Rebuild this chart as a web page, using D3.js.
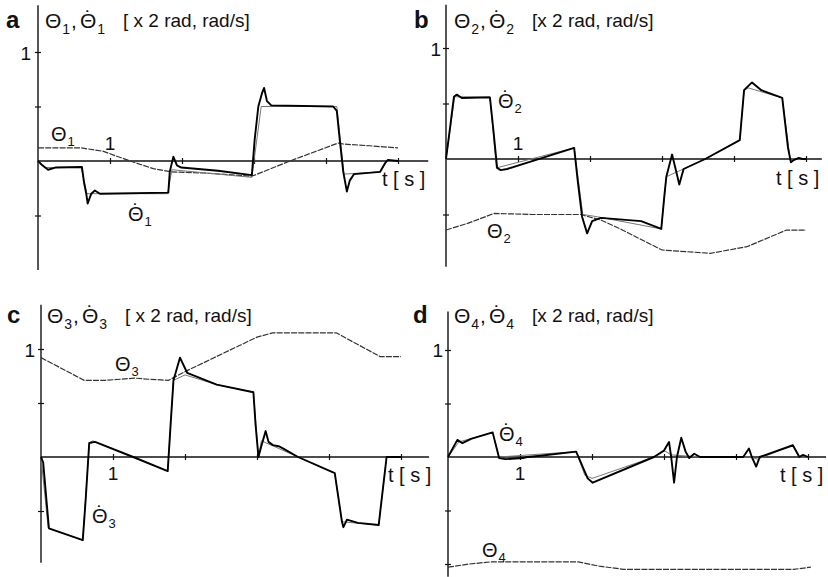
<!DOCTYPE html>
<html>
<head>
<meta charset="utf-8">
<script src="https://cdn.jsdelivr.net/npm/d3@7"></script>
<style>
  html, body { margin: 0; padding: 0; background: #fff; }
  svg { display: block; }
  text { font-family: "Liberation Sans", Arial, sans-serif; fill: #111; }
</style>
</head>
<body>
<svg id="chart" width="828" height="577"></svg>
<script>
// Joint angles (x 2 rad) and angular velocities (rad/s) over time t [s]
const xTickValues = [1, 2, 3, 4, 5];
const xTickLabels = ["1"];
const yTickLabels = ["1"];

// Joint 1
const theta1 = [[0,0.12],[0.6,0.12],[0.9,0.09],[1.28,0],[1.6,-0.07],[1.85,-0.1],[2.3,-0.11],[2.97,-0.14],[3.5,0],[4.17,0.165],[4.25,0.155],[4.6,0.14],[5.0,0.12]];
const thetaDot1 = [[0,0],[0.06,-0.04],[0.14,-0.08],[0.24,-0.06],[0.61,-0.055],[0.64,-0.2],[0.67,-0.3],[0.69,-0.39],[0.74,-0.3],[0.79,-0.27],[0.86,-0.3],[1.81,-0.29],[1.83,-0.1],[1.88,0.04],[1.93,-0.04],[1.99,-0.06],[2.5,-0.09],[2.97,-0.13],[3.01,0.2],[3.06,0.5],[3.11,0.62],[3.14,0.67],[3.18,0.55],[3.24,0.51],[4.10,0.5],[4.15,0.46],[4.19,0.2],[4.24,-0.1],[4.29,-0.28],[4.33,-0.18],[4.39,-0.12],[4.75,-0.1],[4.82,-0.02],[4.86,0.01],[5.0,0]];
const thetaDotRef1 = [[0,0],[0.1,-0.06],[0.6,-0.06],[0.68,-0.3],[1.8,-0.3],[1.86,-0.08],[2.97,-0.15],[3.1,0.5],[4.15,0.5],[4.25,-0.12],[4.75,-0.1],[4.85,0],[5,0]];

// Joint 2
const theta2 = [[0,-0.64],[0.3,-0.58],[0.67,-0.49],[1.2,-0.5],[1.87,-0.5],[2.15,-0.55],[2.42,-0.63],[3.0,-0.82],[3.67,-0.85],[4.18,-0.79],[4.73,-0.64],[5.0,-0.64]];
const thetaDot2 = [[0,0],[0.06,0.3],[0.11,0.56],[0.15,0.58],[0.22,0.55],[0.61,0.555],[0.66,0.25],[0.71,-0.08],[0.76,-0.1],[0.85,-0.09],[1.78,0.1],[1.83,-0.2],[1.89,-0.52],[1.96,-0.67],[2.03,-0.56],[2.15,-0.53],[2.71,-0.56],[2.99,-0.63],[3.03,-0.35],[3.06,-0.16],[3.14,0.04],[3.2,-0.12],[3.24,-0.23],[3.3,-0.09],[3.6,0],[4.08,0.17],[4.14,0.62],[4.25,0.69],[4.38,0.62],[4.67,0.55],[4.75,0.1],[4.79,-0.03],[4.83,-0.01],[4.9,0.01],[4.95,0],[5.0,0]];
const thetaDotRef2 = [[0,0],[0.12,0.56],[0.61,0.56],[0.7,-0.08],[1.78,0.1],[1.9,-0.5],[2.1,-0.52],[2.99,-0.63],[3.06,-0.16],[3.6,0],[4.08,0.17],[4.14,0.62],[4.2,0.64],[4.67,0.55],[4.78,0],[5,0]];

// Joint 3
const theta3 = [[0,0.92],[0.6,0.71],[0.9,0.71],[1.1,0.72],[1.3,0.73],[1.5,0.72],[1.77,0.71],[2.03,0.8],[3.0,1.11],[3.22,1.15],[4.1,1.15],[4.71,0.93],[5.0,0.93]];
const thetaDot3 = [[0,0],[0.03,-0.05],[0.11,-0.66],[0.58,-0.77],[0.62,-0.4],[0.67,0.13],[0.75,0.14],[1.28,0],[1.76,-0.13],[1.8,0.3],[1.84,0.71],[1.93,0.92],[2.03,0.78],[2.44,0.67],[2.95,0.6],[2.98,0.3],[3.02,0],[3.06,0.1],[3.12,0.24],[3.16,0.14],[3.22,0.11],[3.3,0.1],[3.36,0.08],[3.57,0],[4.08,-0.15],[4.18,-0.6],[4.2,-0.65],[4.25,-0.58],[4.4,-0.61],[4.69,-0.63],[4.8,0],[5.0,0]];
const thetaDotRef3 = [[0,0],[0.1,-0.66],[0.58,-0.77],[0.67,0.13],[0.72,0.15],[1.28,0],[1.76,-0.13],[1.84,0.71],[2.0,0.76],[2.44,0.67],[2.95,0.6],[3.02,0],[3.06,0.15],[3.57,0],[4.08,-0.15],[4.18,-0.6],[4.69,-0.63],[4.8,0],[5,0]];

// Joint 4
const theta4 = [[0,-1.03],[0.3,-1.0],[0.6,-0.98],[1.81,-0.98],[2.1,-1.02],[2.44,-1.05],[4.8,-1.05],[5.04,-1.03]];
const thetaDot4 = [[0,0],[0.13,0.16],[0.2,0.13],[0.32,0.17],[0.62,0.23],[0.71,-0.01],[0.8,-0.02],[1.04,-0.01],[1.1,0],[1.25,0.01],[1.78,0.05],[1.94,-0.2],[2.01,-0.24],[2.86,0],[3.0,0.06],[3.07,0.14],[3.1,0],[3.14,-0.24],[3.18,0],[3.24,0.18],[3.3,0.05],[3.35,-0.01],[3.42,0.03],[3.5,0],[4.1,0],[4.18,0.08],[4.22,0],[4.28,-0.09],[4.33,0],[4.79,0.11],[4.88,0],[4.93,0.02],[5.0,0]];
const thetaDotRef4 = [[0,0],[0.15,0.14],[0.62,0.23],[0.71,0],[1.78,0.05],[1.9,-0.17],[2.0,-0.2],[2.86,0],[3.0,0.06],[3.1,0.02],[3.5,0],[4.2,0],[4.3,-0.02],[4.79,0.11],[4.88,0],[5,0]];

// Panel layout (pixel geometry)
const panels = [
  { letter: "a", idx: "1", theta: theta1, dot: thetaDot1, ref: thetaDotRef1, bracket: "[ x 2 rad, rad/s]",
    x0: 38, y0: 161, pps: 72, ppu: 109, yTop: 1.43, yBot: -1.0, xEnd: 5.42, yTicks: [1, 0.5, -0.5],
    letterPos: [6, 28], titlePos: [45, 28], thetaLab: [51, 141], dotLab: [128, 221],
    xLabPos: [110, 150], yLabPos: [31, 60], tsPos: [382, 186] },
  { letter: "b", idx: "2", theta: theta2, dot: thetaDot2, ref: thetaDotRef2, bracket: "[x 2 rad, rad/s]",
    x0: 446, y0: 159, pps: 72, ppu: 111, yTop: 1.39, yBot: -0.97, xEnd: 5.22, yTicks: [1, 0.5, -0.5],
    letterPos: [414, 28], titlePos: [454, 28], thetaLab: [487, 238], dotLab: [498, 108],
    xLabPos: [518, 150], yLabPos: [441, 56], tsPos: [776, 185] },
  { letter: "c", idx: "3", theta: theta3, dot: thetaDot3, ref: thetaDotRef3, bracket: "[ x 2 rad, rad/s]",
    x0: 41, y0: 457, pps: 72, ppu: 108, yTop: 1.41, yBot: -0.98, xEnd: 5.39, yTicks: [1, 0.5, -0.5],
    letterPos: [7, 323], titlePos: [47, 323], thetaLab: [115, 371], dotLab: [92, 523],
    xLabPos: [113, 480], yLabPos: [35, 357], tsPos: [388, 482] },
  { letter: "d", idx: "4", theta: theta4, dot: thetaDot4, ref: thetaDotRef4, bracket: "[x 2 rad, rad/s]",
    x0: 448, y0: 457, pps: 72, ppu: 107, yTop: 1.36, yBot: -1.12, xEnd: 5.25, yTicks: [1, 0.5, -0.5, -1],
    letterPos: [413, 323], titlePos: [454, 323], thetaLab: [482, 557], dotLab: [499, 441],
    xLabPos: [520, 480], yLabPos: [443, 357], tsPos: [780, 482] }
];

const svg = d3.select("#chart");

// glyph advance widths (per 1px of font size) for placing the over-dot
function advance(str) {
  const m = svg.append("text").attr("font-size", 100).text(str);
  const w = m.node().getComputedTextLength() / 100;
  m.remove();
  return w;
}
const THETA_W = advance("Θ");
const DOTACC = "\u02D9";
const DOT_W = advance(DOTACC);

// Θ with subscript index, an over-dot marking the time derivative; appended as tspans
function symbol(text, x, y, idx, dotted, size, subSize) {
  text.append("tspan").attr("x", x).attr("y", y).attr("font-size", size).text("Θ");
  if (dotted) {
    text.append("tspan").attr("x", x + (THETA_W - DOT_W) * size / 2).attr("y", y - 0.16 * size)
      .attr("font-size", size).text(DOTACC);
  }
  text.append("tspan").attr("x", x + 0.82 * size).attr("y", y + 0.27 * size)
    .attr("font-size", subSize).text(idx);
}

panels.forEach(p => {
  const x = d3.scaleLinear().domain([0, 5]).range([p.x0, p.x0 + 5 * p.pps]);
  const y = d3.scaleLinear().domain([-1, 1]).range([p.y0 + p.ppu, p.y0 - p.ppu]);
  const g = svg.append("g");

  // axis lines
  g.append("line").attr("x1", x(0)).attr("x2", x(p.xEnd)).attr("y1", y(0)).attr("y2", y(0))
    .attr("stroke", "#111").attr("stroke-width", 1.4);
  g.append("line").attr("x1", x(0)).attr("x2", x(0)).attr("y1", y(p.yTop)).attr("y2", y(p.yBot))
    .attr("stroke", "#111").attr("stroke-width", 1.4);

  // ticks crossing the axes
  const xAx = d3.axisBottom(x).tickValues(xTickValues).tickSize(6).tickFormat("");
  g.append("g").attr("transform", `translate(0,${y(0) - 3})`).call(xAx)
    .call(s => s.select(".domain").remove())
    .call(s => s.selectAll(".tick line").attr("stroke", "#111").attr("stroke-width", 1.2));
  const yAx = d3.axisLeft(y).tickValues(p.yTicks).tickSize(6).tickFormat("");
  g.append("g").attr("transform", `translate(${x(0) + 3},0)`).call(yAx)
    .call(s => s.select(".domain").remove())
    .call(s => s.selectAll(".tick line").attr("stroke", "#111").attr("stroke-width", 1.2));

  // tick labels
  g.append("text").attr("x", p.xLabPos[0]).attr("y", p.xLabPos[1]).attr("text-anchor", "middle")
    .attr("font-size", 19).text(xTickLabels[0]);
  g.append("text").attr("x", p.yLabPos[0]).attr("y", p.yLabPos[1]).attr("text-anchor", "end")
    .attr("font-size", 19).text(yTickLabels[0]);
  g.append("text").attr("x", p.tsPos[0]).attr("y", p.tsPos[1]).attr("font-size", 20).text("t [ s ]");

  // series
  const line = d3.line().x(d => x(d[0])).y(d => y(d[1]));
  g.append("path").datum(p.theta).attr("d", line).attr("fill", "none")
    .attr("stroke", "#333").attr("stroke-width", 1.2).attr("stroke-dasharray", "6,1.2");
  g.append("path").datum(p.ref).attr("d", line).attr("fill", "none")
    .attr("stroke", "#777").attr("stroke-width", 1);
  g.append("path").datum(p.dot).attr("d", line).attr("fill", "none")
    .attr("stroke", "#000").attr("stroke-width", 1.9).attr("stroke-linejoin", "round");

  // panel letter and title
  g.append("text").attr("x", p.letterPos[0]).attr("y", p.letterPos[1]).attr("font-size", 24)
    .attr("font-weight", "bold").text(p.letter);
  const tx = p.titlePos[0], ty = p.titlePos[1];
  const title = g.append("text");
  symbol(title, tx, ty, p.idx, false, 21, 14);
  title.append("tspan").attr("x", tx + 26).attr("y", ty).attr("font-size", 21).text(",");
  symbol(title, tx + 35, ty, p.idx, true, 21, 14);
  title.append("tspan").attr("x", tx + 78).attr("y", ty - 1).attr("font-size", 19).text(p.bracket);

  // series labels
  symbol(g.append("text"), p.thetaLab[0], p.thetaLab[1], p.idx, false, 20, 13);
  symbol(g.append("text"), p.dotLab[0], p.dotLab[1], p.idx, true, 20, 13);
});
</script>
</body>
</html>
